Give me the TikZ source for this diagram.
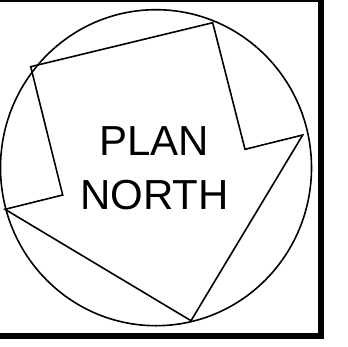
\documentclass[tikz,border=0pt]{standalone}
\usepackage{fontspec}
\setmainfont{Liberation Sans}
\begin{document}
\begin{tikzpicture}[x=1pt,y=-1pt,
  outline/.style={draw=black,line width=1.6pt,line join=miter},
  framebar/.style={draw=black,line width=6pt},
  label/.style={font=\fontsize{42}{54}\selectfont,align=center,inner sep=0pt}]
\useasboundingbox (0,0) rectangle (348,346);
% frame
\draw[draw=black,line width=2.5pt] (-5,1.2) -- (321,1.2);
\draw[framebar] (320.5,-3) -- (320.5,339);
\draw[framebar] (-5,336) -- (323.5,336);
% circle
\draw[outline] (156,167.7) ellipse [x radius=155.5, y radius=158];
% arrow
\draw[outline] (30.7,66.7) -- (212.7,22.7) -- (245,149.3) -- (302.7,135)
  -- (191,320.7) -- (5,209.3) -- (62.7,195) -- cycle;
% text
\node[label,anchor=base] (plan) at (154,155) {PLAN};
\node[label,anchor=base] (north) at (154.5,209) {NORTH};
\end{tikzpicture}
\end{document}
